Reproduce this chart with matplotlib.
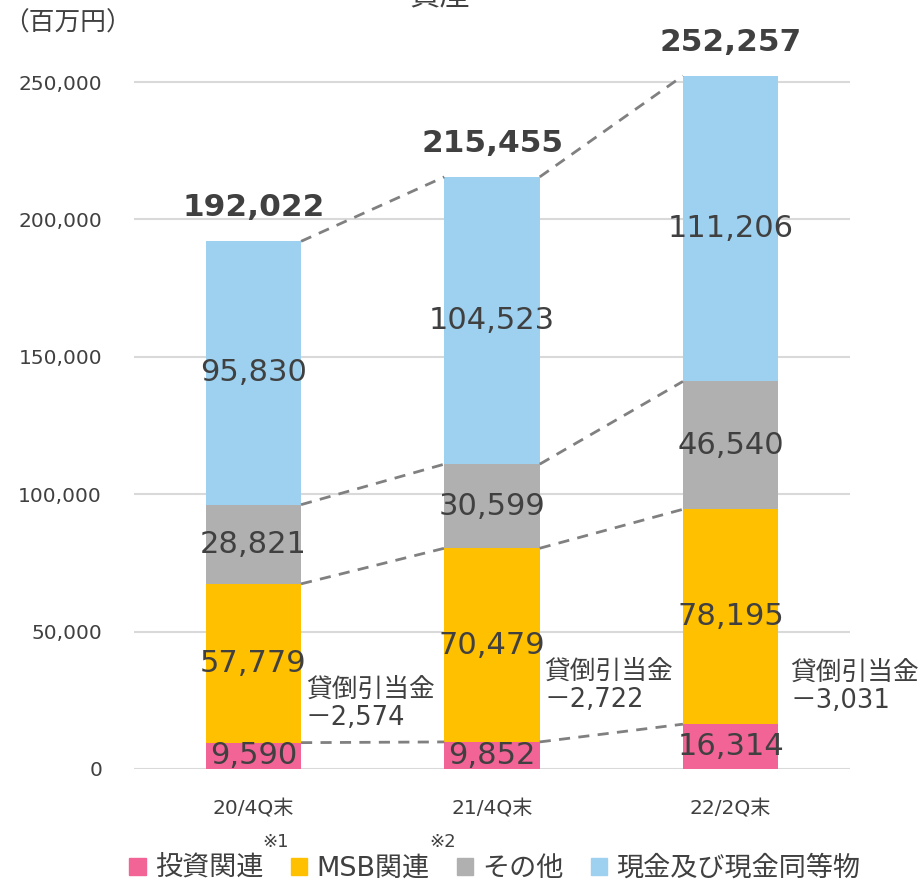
import numpy as np
import matplotlib
matplotlib.use("Agg")
from matplotlib import pyplot as plt
from matplotlib.patches import Patch

plt.rcParams["font.family"] = ["DejaVu Sans", "Noto Sans CJK JP"]

# data (百万円)
categories = ["20/4Q末", "21/4Q末", "22/2Q末"]
series_names = ["投資関連", "MSB関連", "その他", "現金及び現金同等物"]
investment = [9590, 9852, 16314]
msb = [57779, 70479, 78195]
other = [28821, 30599, 46540]
cash = [95830, 104523, 111206]
totals = [192022, 215455, 252257]
allowance = [-2574, -2722, -3031]

colors = ["#F26496", "#FFC000", "#B0B0B0", "#9DD1EF"]
text_color = "#404040"

fig = plt.figure(figsize=(9.24, 8.85), dpi=100)
# axes: y=0 at px 769, 250,000 at px 82
ax = fig.add_axes([134 / 924, 1 - 769 / 885, (850 - 134) / 924, (769 - 60) / 885])

x = np.arange(len(categories))
width = 0.4
series = [investment, msb, other, cash]
bottom = np.zeros(len(categories))
tops = []
for vals, col in zip(series, colors):
    vals = np.array(vals)
    ax.bar(x, vals, width, bottom=bottom, color=col, zorder=2)
    for xi, b, v in zip(x, bottom, vals):
        ax.text(xi, b + v / 2, f"{v:,}", ha="center", va="center",
                fontsize=22, color=text_color, zorder=4)
    bottom = bottom + vals
    tops.append(bottom.copy())

# dashed connectors between segment tops
for level in tops:
    for i in range(len(categories) - 1):
        ax.plot([x[i] + width / 2, x[i + 1] - width / 2], [level[i], level[i + 1]],
                ls=(0, (4, 3)), color="#808080", lw=2, zorder=3, clip_on=False)

# totals on top
for xi, t, b in zip(x, totals, bottom):
    ax.annotate(f"{t:,}", (xi, b), xytext=(0, 24), textcoords="offset points",
                ha="center", va="center", fontsize=22.5, fontweight="bold",
                color=text_color, annotation_clip=False)

# allowance notes
note_y = [23800, 30350, 30000]
note_dx = [0.22, 0.22, 0.25]
for xi, a, ny, dx in zip(x, allowance, note_y, note_dx):
    ax.text(xi + dx, ny, f"貸倒引当金\n－{abs(a):,}", ha="left", va="center",
            fontsize=18.5, color=text_color, linespacing=1.1,
            family=["DejaVu Sans", "Noto Sans CJK JP"])

ax.set_xlim(-0.5, 2.5)
ax.set_ylim(0, 250000 * 709 / 687)
ax.set_yticks(np.arange(0, 250001, 50000))
ax.set_yticklabels([f"{v:,}" for v in range(0, 250001, 50000)])
ax.set_xticks(x)
ax.set_xticklabels(categories)
ax.tick_params(axis="y", length=0, pad=23, labelsize=14.5, labelcolor=text_color)
ax.tick_params(axis="x", length=0, pad=22, labelsize=14.5, labelcolor=text_color)
ax.grid(axis="y", color="#D9D9D9", lw=1.5, zorder=0)
ax.set_axisbelow(True)
for s in ax.spines.values():
    s.set_visible(False)

fig.text(3 / 924, 1 - 24 / 885, "（百万円）", ha="left", va="center", fontsize=18.5,
         color=text_color, family=["Noto Sans CJK JP", "DejaVu Sans"])
fig.text(440 / 924, 1 + 4 / 885, "資産", ha="center", va="center", fontsize=22,
         color=text_color, family=["Noto Sans CJK JP", "DejaVu Sans"])

handles = [Patch(color=c) for c in colors]
leg = fig.legend(handles, series_names, loc="center", bbox_to_anchor=(495 / 924, 1 - 869 / 885),
                 ncol=4, frameon=False, fontsize=19.5, handlelength=0.6, handleheight=0.6,
                 handletextpad=0.35, columnspacing=1.0, borderaxespad=0)
for t in leg.get_texts():
    t.set_color(text_color)

fig.text(276 / 924, 1 - 842 / 885, "※1", ha="center", va="center", fontsize=13, color=text_color)
fig.text(443 / 924, 1 - 842 / 885, "※2", ha="center", va="center", fontsize=13, color=text_color)

fig.savefig("out.png", dpi=100)
